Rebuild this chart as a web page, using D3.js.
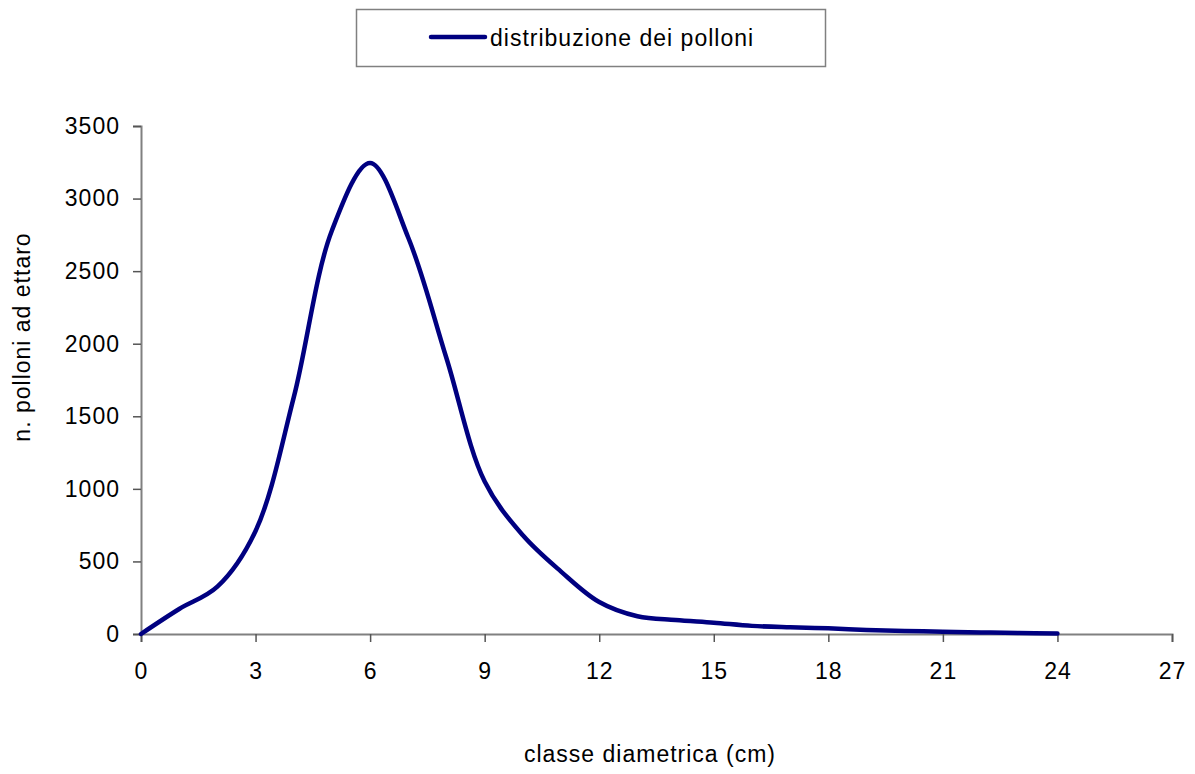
<!DOCTYPE html>
<html>
<head>
<meta charset="utf-8">
<script src="https://cdn.jsdelivr.net/npm/d3@7"></script>
<style>
  body { margin: 0; background: #fff; }
  svg { display: block; }
  text { font-family: "Liberation Sans", Arial, sans-serif; fill: #000; }
</style>
</head>
<body>
<svg id="chart" width="1195" height="774"></svg>
<script>
// Data
const diameters = [0, 1, 2, 3, 4, 5, 6, 7, 8, 9, 10, 11, 12, 13, 14, 15, 16, 17, 18, 19, 20, 21, 22, 23, 24];
const polloni   = [0, 172, 326, 710, 1630, 2780, 3245, 2730, 1900, 1050, 680, 430, 220, 122, 96, 78, 56, 46, 39, 28, 21, 16, 11, 7, 3];
const xTicks = [0, 3, 6, 9, 12, 15, 18, 21, 24, 27];
const yTicks = [0, 500, 1000, 1500, 2000, 2500, 3000, 3500];
const seriesName = "distribuzione dei polloni";
const xTitle = "classe diametrica (cm)";
const yTitle = "n. polloni ad ettaro";

const svg = d3.select("#chart");
const pLeft = 141, pRight = 1172, pTop = 126, pBottom = 634;
const fontSize = 23, spacing = "1px";

const x = d3.scaleLinear().domain([0, 27]).range([pLeft, pRight]);
const y = d3.scaleLinear().domain([0, 3500]).range([pBottom, pTop]);

const axisColor = "#808080";

// Y axis
const yAxis = svg.append("g")
  .attr("transform", `translate(${pLeft},0)`)
  .call(d3.axisLeft(y).tickValues(yTicks).tickSize(8).tickPadding(13).tickFormat(d3.format("d")));
// X axis
const xAxis = svg.append("g")
  .attr("transform", `translate(0,${pBottom})`)
  .call(d3.axisBottom(x).tickValues(xTicks).tickSize(8).tickPadding(21).tickFormat(d3.format("d")));

[yAxis, xAxis].forEach(g => {
  g.select(".domain").attr("stroke", axisColor).attr("stroke-width", 2);
  g.selectAll(".tick line").attr("stroke", "#555").attr("stroke-width", 1.5);
  g.selectAll(".tick text").attr("font-size", fontSize).attr("fill", "#000")
    .attr("letter-spacing", spacing)
    .attr("font-family", "Liberation Sans, Arial, sans-serif");
});

// Line
const line = d3.line()
  .x((d, i) => x(diameters[i]))
  .y(d => y(d))
  .curve(d3.curveCatmullRom.alpha(0.5));

svg.append("path")
  .datum(polloni)
  .attr("d", line)
  .attr("fill", "none")
  .attr("stroke", "#000080")
  .attr("stroke-width", 4.5)
  .attr("stroke-linejoin", "round")
  .attr("stroke-linecap", "round");

// Axis titles
svg.append("text")
  .attr("x", 650)
  .attr("y", 762)
  .attr("text-anchor", "middle")
  .attr("font-size", fontSize)
  .attr("letter-spacing", spacing)
  .text(xTitle);

svg.append("text")
  .attr("transform", `translate(30,337) rotate(-90)`)
  .attr("text-anchor", "middle")
  .attr("font-size", fontSize)
  .attr("letter-spacing", spacing)
  .text(yTitle);

// Legend
const legend = svg.append("g");
legend.append("rect")
  .attr("x", 356.5).attr("y", 9.5)
  .attr("width", 469).attr("height", 57)
  .attr("fill", "#fff").attr("stroke", axisColor).attr("stroke-width", 1.5);
legend.append("line")
  .attr("x1", 431).attr("x2", 485).attr("y1", 37).attr("y2", 37)
  .attr("stroke", "#000080").attr("stroke-width", 4.5).attr("stroke-linecap", "round");
legend.append("text")
  .attr("x", 490).attr("y", 46)
  .attr("font-size", fontSize)
  .attr("letter-spacing", spacing)
  .text(seriesName);
</script>
</body>
</html>
